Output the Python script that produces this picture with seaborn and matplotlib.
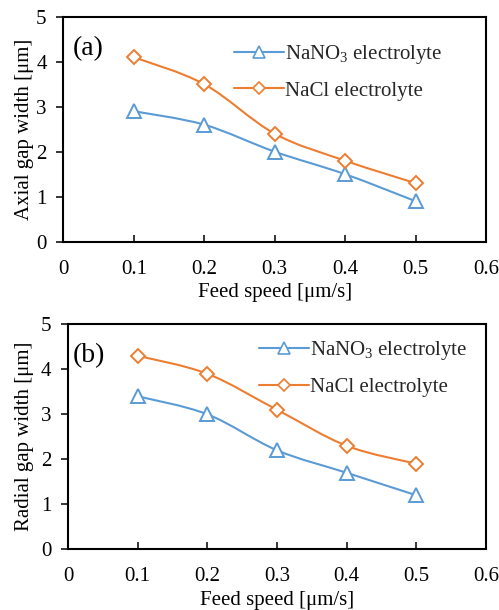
import numpy as np
import pandas as pd
import matplotlib
matplotlib.use("Agg")
import matplotlib.pyplot as plt
from matplotlib.path import Path
from matplotlib.patches import PathPatch
from matplotlib.lines import Line2D
import seaborn as sns

# ---- data ----
feed_speed = [0.1, 0.2, 0.3, 0.4, 0.5]
axial_nano3 = [2.9, 2.6, 2.0, 1.5, 0.9]
axial_nacl = [4.1, 3.5, 2.4, 1.8, 1.3]
radial_nano3 = [3.4, 3.0, 2.2, 1.7, 1.2]
radial_nacl = [4.3, 3.9, 3.1, 2.3, 1.9]
series_labels = ["NaNO$_3$ electrolyte", "NaCl electrolyte"]
panel_labels = ["(a)", "(b)"]
y_labels = ["Axial gap width [\u03bcm]", "Radial gap width [\u03bcm]"]
x_label = "Feed speed [\u03bcm/s]"
x_tick_labels = ["0", "0.1", "0.2", "0.3", "0.4", "0.5", "0.6"]

BLUE = "#5B9BD5"
ORANGE = "#ED7D31"
FAM = ["Liberation Serif", "DejaVu Serif"]

sns.set_theme(style="white")
plt.rcParams["font.family"] = FAM
plt.rcParams["mathtext.fontset"] = "custom"
plt.rcParams["mathtext.rm"] = "Liberation Serif"
plt.rcParams["mathtext.it"] = "Liberation Serif:italic"
plt.rcParams["mathtext.default"] = "rm"

fig = plt.figure(figsize=(4.99, 6.10), dpi=100)
ax_a = fig.add_axes([0.1269, 0.6038, 0.8471, 0.3688])
ax_b = fig.add_axes([0.1363, 0.0995, 0.8377, 0.3689])


def smooth_path(xs, ys):
    # Bezier smoothing between data points (Excel-style smoothed line)
    xs = np.asarray(xs, float)
    ys = np.asarray(ys, float)
    n = len(xs)
    verts = [(xs[0], ys[0])]
    codes = [Path.MOVETO]
    for i in range(n - 1):
        p0 = np.array([xs[max(i - 1, 0)], ys[max(i - 1, 0)]])
        p1 = np.array([xs[i], ys[i]])
        p2 = np.array([xs[i + 1], ys[i + 1]])
        p3 = np.array([xs[min(i + 2, n - 1)], ys[min(i + 2, n - 1)]])
        c1 = p1 + (p2 - p0) / 6.0
        c2 = p2 - (p3 - p1) / 6.0
        verts += [tuple(c1), tuple(c2), tuple(p2)]
        codes += [Path.CURVE4] * 3
    return Path(verts, codes)


def draw_panel(ax, s1, s2, ylab, plab, plab_x, ylab_pad, leg_anchor):
    df = pd.DataFrame({
        "x": feed_speed * 2,
        "y": list(s1) + list(s2),
        "s": [series_labels[0]] * len(feed_speed) + [series_labels[1]] * len(feed_speed),
    })
    for vals, col in [(s1, BLUE), (s2, ORANGE)]:
        ax.add_patch(PathPatch(smooth_path(feed_speed, vals), facecolor="none",
                               edgecolor=col, lw=1.5, zorder=2))
    sns.lineplot(data=df[df.s == series_labels[0]], x="x", y="y", ax=ax,
                 linestyle="", marker="^", markersize=10.5, markerfacecolor="white",
                 markeredgecolor=BLUE, markeredgewidth=1.4, color=BLUE, zorder=3,
                 legend=False)
    sns.lineplot(data=df[df.s == series_labels[1]], x="x", y="y", ax=ax,
                 linestyle="", marker="D", markersize=7.5, markerfacecolor="white",
                 markeredgecolor=ORANGE, markeredgewidth=1.4, color=ORANGE, zorder=3,
                 legend=False)
    ax.set_xlim(0, 0.6)
    ax.set_ylim(0, 5)
    ax.set_xticks(np.arange(0, 0.61, 0.1))
    ax.set_xticklabels(x_tick_labels, family=FAM, fontsize=15)
    ax.set_yticks(range(0, 6))
    ax.set_yticklabels([str(v) for v in range(0, 6)], family=FAM, fontsize=15)
    ax.tick_params(axis="x", direction="in", length=5, width=1.1, colors="black",
                   pad=13, top=False, bottom=True)
    ax.tick_params(axis="y", direction="out", length=5, width=1.1, colors="black",
                   pad=7, left=True)
    for sp in ax.spines.values():
        sp.set_visible(True)
        sp.set_color("black")
        sp.set_linewidth(1.5)
    ax.set_xlabel(x_label, fontsize=15, family=FAM, labelpad=3, color="black")
    ax.set_ylabel(ylab, fontsize=15, family=FAM, labelpad=ylab_pad, color="black")
    ax.text(plab_x, 0.86, plab, transform=ax.transAxes, fontsize=20, family=FAM,
            ha="left", va="center", color="black")
    handles = [
        Line2D([], [], color=BLUE, lw=1.5, marker="^", markersize=8,
               markerfacecolor="white", markeredgecolor=BLUE, markeredgewidth=1.2),
        Line2D([], [], color=ORANGE, lw=1.5, marker="D", markersize=6,
               markerfacecolor="white", markeredgecolor=ORANGE, markeredgewidth=1.2),
    ]
    ax.legend(handles, series_labels, loc="upper left", bbox_to_anchor=leg_anchor,
              frameon=False, prop={"family": FAM, "size": 15},
              handlelength=2.4, handletextpad=0.05,
              labelspacing=0.72, borderaxespad=0)


draw_panel(ax_a, axial_nano3, axial_nacl, y_labels[0], panel_labels[0], 0.022, 1.5,
           (0.383, 0.92))
draw_panel(ax_b, radial_nano3, radial_nacl, y_labels[1], panel_labels[1], 0.012, 5,
           (0.438, 0.97))

fig.savefig("out.png", dpi=100)
